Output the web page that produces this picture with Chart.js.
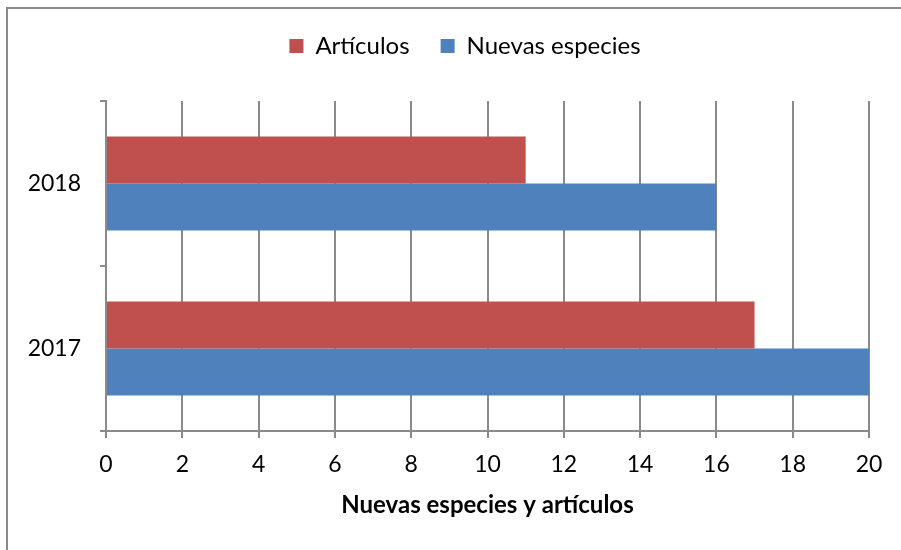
<!DOCTYPE html>
<html>
<head>
<meta charset="utf-8">
<script src="https://cdn.jsdelivr.net/npm/chart.js@4"></script>
<style>
  html, body { margin: 0; padding: 0; background: #fff; overflow: hidden; }
  #wrap { position: relative; width: 901px; height: 550px; }
  #frame { position: absolute; left: 6px; top: 7px; width: 1000px; height: 1000px;
           border: 2px solid #8a8a8a; box-sizing: border-box; }
  canvas { position: absolute; left: 0; top: 0; }
</style>
</head>
<body>
<div id="wrap">
  <div id="frame"></div>
  <canvas id="chart" width="901" height="550"></canvas>
</div>
<script>
const years = ['2018', '2017'];
const articulos = [11, 17];
const nuevasEspecies = [16, 20];
const xTicks = [0, 2, 4, 6, 8, 10, 12, 14, 16, 18, 20];

const FONT = 'Lato, "Open Sans", sans-serif';
const GRID = '#8a8a8a';

// fixed legend band height, and nudge the legend right like the original
const legendBox = {
    id: 'legendBox',
    beforeInit(chart) {
        const fit = chart.legend.fit;
        chart.legend.fit = function () {
            fit.call(this);
            this.height = 98;
        };
    },
    afterLayout(chart) {
        chart.legend.left += 17;
        chart.legend.right += 17;
    }
};

new Chart(document.getElementById('chart').getContext('2d'), {
    type: 'bar',
    data: {
        labels: years,
        datasets: [
            { label: 'Artículos', data: articulos, backgroundColor: '#C0504D' },
            { label: 'Nuevas especies', data: nuevasEspecies, backgroundColor: '#4F81BD' }
        ]
    },
    options: {
        indexAxis: 'y',
        responsive: false,
        animation: false,
        devicePixelRatio: 1,
        categoryPercentage: 0.57,
        barPercentage: 1,
        layout: { padding: { top: 3, left: 27, right: 32, bottom: 0 } },
        plugins: {
            tooltip: { enabled: false },
            legend: {
                position: 'top',
                labels: {
                    font: { family: FONT, size: 24 },
                    color: '#000',
                    boxWidth: 14,
                    boxHeight: 14,
                    padding: 31
                }
            }
        },
        scales: {
            x: {
                min: 0,
                max: 20,
                afterBuildTicks: scale => { scale.ticks = xTicks.map(v => ({ value: v })); },
                afterFit: scale => { scale.height = 119; },
                grid: { color: GRID, lineWidth: 2, tickLength: 7 },
                border: { color: GRID, width: 2 },
                ticks: { font: { family: FONT, size: 23 }, color: '#000', padding: 13 },
                title: {
                    display: true,
                    text: 'Nuevas especies y artículos',
                    font: { family: FONT, size: 24, weight: 'bold' },
                    color: '#000',
                    padding: { top: 0, bottom: 30 }
                }
            },
            y: {
                afterFit: scale => { scale.width = 79; },
                grid: { color: GRID, lineWidth: 2, drawOnChartArea: false, tickLength: 6, offset: true },
                border: { color: GRID, width: 2 },
                ticks: { font: { family: FONT, size: 23 }, color: '#000', padding: 19 }
            }
        }
    },
    plugins: [legendBox]
});
</script>
</body>
</html>
